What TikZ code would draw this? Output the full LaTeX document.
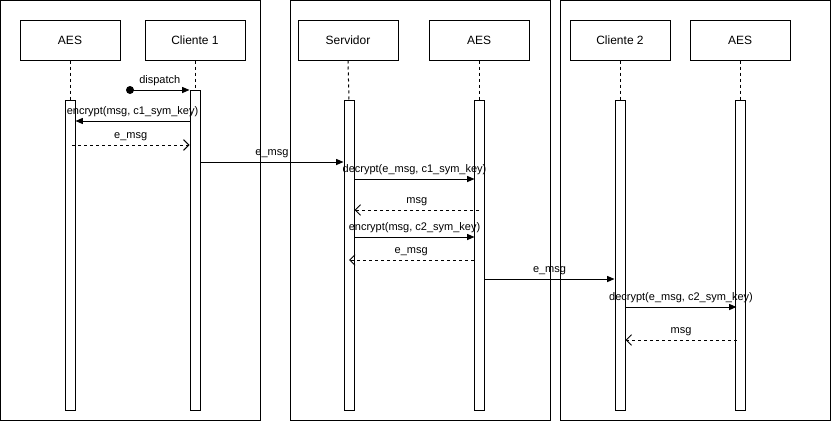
\documentclass[tikz,border=0pt]{standalone}
\usepackage{fontspec}
\setmainfont{Liberation Sans}
\usetikzlibrary{arrows.meta,calc}
\begin{document}
\begin{tikzpicture}[x=0.75pt,y=-0.75pt,
  every path/.style={line width=0.75pt},
  frame/.style={draw,line width=0.75pt},
  actor/.style={draw,fill=white,minimum width=75pt,minimum height=30pt,inner sep=0pt,font=\fontsize{9}{11}\selectfont},
  bar/.style={draw,fill=white,minimum width=7.5pt,inner sep=0pt,anchor=north},
  life/.style={dash pattern=on 2.25pt off 2.25pt},
  call/.style={-{Triangle[length=5.5pt,width=4.5pt]}},
  reply/.style={dash pattern=on 2.25pt off 2.25pt,-{Straight Barb[length=4pt,width=8pt,line width=0.75pt]}},
  lbl/.style={font=\fontsize{8.25}{10}\selectfont,inner sep=2.5pt,above}]
\useasboundingbox (0,0) rectangle (831,421);

% swimlane frames
\draw[frame] (0.5,0.5) rectangle (260,420);
\draw[frame] (290,0.5) rectangle (550,420);
\draw[frame] (560,0.5) rectangle (830,420);

% participants
\node[actor] (aes1) at (70,40) {AES};
\node[actor] (cli1) at (195,40) {Cliente 1};
\node[actor] (srv)  at (348,40) {Servidor};
\node[actor] (aes2) at (479,40) {AES};
\node[actor] (cli2) at (620,40) {Cliente 2};
\node[actor] (aes3) at (740,40) {AES};

% activation bars
\node[bar,minimum height=232.5pt] (baes1) at (70,100) {};
\node[bar,minimum height=240pt]   (bcli1) at (195,90) {};
\node[bar,minimum height=232.5pt] (bsrv)  at (349,100) {};
\node[bar,minimum height=232.5pt] (baes2) at (479,100) {};
\node[bar,minimum height=232.5pt] (bcli2) at (620,100) {};
\node[bar,minimum height=232.5pt] (baes3) at (740,100) {};

% lifelines
\draw[life] (aes1.south) -- (baes1.north);
\draw[life] (cli1.south) -- (bcli1.north);
\draw[life] (srv.south)  -- (bsrv.north);
\draw[life] (aes2.south) -- (baes2.north);
\draw[life] (cli2.south) -- (bcli2.north);
\draw[life] (aes3.south) -- (baes3.north);

% message rows
\coordinate (r1) at (0,90);
\coordinate (r2) at (0,121);
\coordinate (r3) at (0,145);
\coordinate (r4) at (0,162);
\coordinate (r5) at (0,179);
\coordinate (r6) at (0,210);
\coordinate (r7) at (0,237);
\coordinate (r8) at (0,260);
\coordinate (r9) at (0,279);
\coordinate (r10) at (0,307);
\coordinate (r11) at (0,340);

% Cliente 1
\coordinate (start) at (130,90);
\fill (start) circle[radius=3pt];
\draw[call] (start) -- node[lbl] {dispatch} (bcli1.west |- r1);
\draw[call] (bcli1.west |- r2) -- node[lbl,xshift=0pt] {encrypt(msg, c1\_sym\_key)} (baes1.east |- r2);
\draw[reply] (baes1.center |- r3) ++(2,0) coordinate (e1) (e1) -- node[lbl] {e\_msg} (bcli1.west |- r3);
\draw[call] (bcli1.east |- r4) -- node[lbl] {e\_msg} (bsrv.west |- r4);

% Servidor
\draw[call] (bsrv.east |- r5) -- node[lbl] {decrypt(e\_msg, c1\_sym\_key)} ($(baes2.west |- r5)+(1,0)$);
\draw[reply] (baes2.center |- r6) -- node[lbl] {msg} (bsrv.east |- r6);
\draw[call] (bsrv.east |- r7) -- node[lbl] {encrypt(msg, c2\_sym\_key)} ($(baes2.west |- r7)+(1,0)$);
\draw[reply] (baes2.west |- r8) -- node[lbl] {e\_msg} (bsrv.center |- r8);
\draw[call] (baes2.east |- r9) -- node[lbl] {e\_msg} (bcli2.west |- r9);

% Cliente 2
\draw[call] (bcli2.east |- r10) -- node[lbl] {decrypt(e\_msg, c2\_sym\_key)} ($(baes3.west |- r10)+(2,0)$);
\draw[reply] ($(baes3.west |- r11)+(2,0)$) -- node[lbl] {msg} (bcli2.east |- r11);
\end{tikzpicture}
\end{document}
